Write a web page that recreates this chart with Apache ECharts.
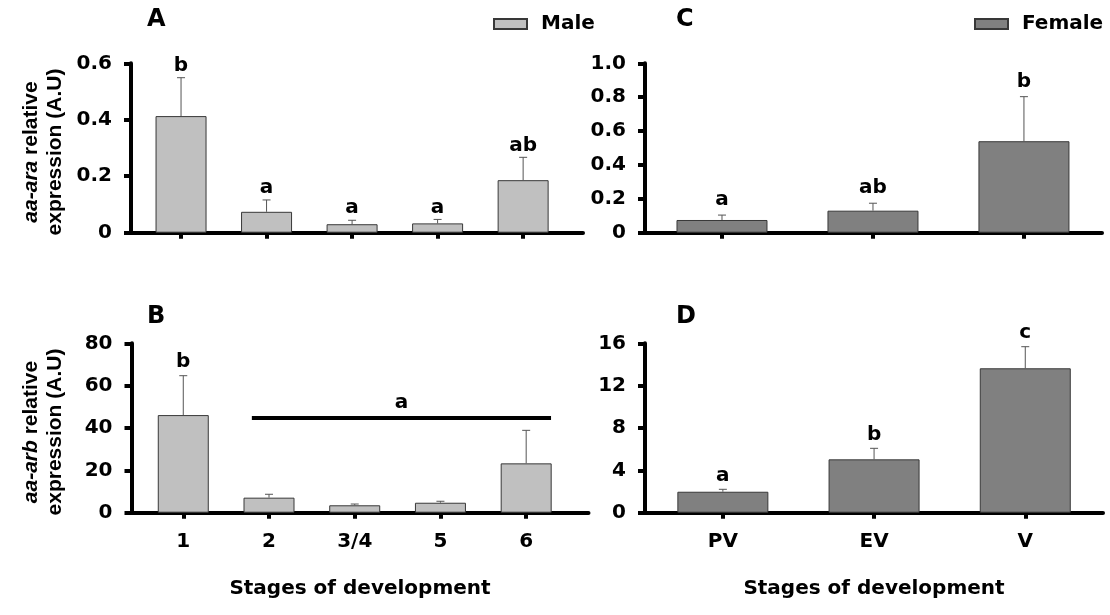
<!DOCTYPE html>
<html>
<head>
<meta charset="utf-8">
<script src="https://cdn.jsdelivr.net/npm/echarts@6/dist/echarts.min.js"></script>
<style>
  html, body { margin: 0; padding: 0; background: #fff; }
  #chart { width: 1110px; height: 615px; }
</style>
</head>
<body>
<div id="chart"></div>
<script>
// stages
var maleStages = ['1', '2', '3/4', '5', '6'];
var femaleStages = ['PV', 'EV', 'V'];

// aa-ara (A male, C female): mean, SEM, letters
var araMale = [0.413, 0.074, 0.030, 0.033, 0.186];
var araMaleSem = [0.136, 0.042, 0.014, 0.014, 0.081];
var araMaleLetters = ['b', 'a', 'a', 'a', 'ab'];
var araFemale = [0.075, 0.130, 0.540];
var araFemaleSem = [0.029, 0.044, 0.263];
var araFemaleLetters = ['a', 'ab', 'b'];

// aa-arb (B male, D female)
var arbMale = [46.1, 7.1, 3.5, 4.7, 23.3];
var arbMaleSem = [18.6, 1.6, 0.6, 0.7, 15.6];
var arbMaleLetters = ['b', '', '', '', ''];
var arbMaleGroupSpan = [0.8, 4.29];   // stages 2..6 share letter "a"
var arbMaleGroupLevel = 45;
var arbFemale = [1.98, 5.04, 13.64];
var arbFemaleSem = [0.23, 1.04, 2.04];
var arbFemaleLetters = ['a', 'b', 'c'];

var FONT = '"DejaVu Sans", Verdana, sans-serif';
var TITLE_FONT = '"Liberation Sans", Arial, Helvetica, sans-serif';
var MALE_COLOR = '#c0c0c0';
var FEMALE_COLOR = '#808080';

function idx(arr) { return arr.map(function (v, i) { return i; }); }

function xAxis(grid, cats, min, max, showLabels, name) {
  return {
    type: 'value', gridIndex: grid, min: min, max: max,
    axisLine: { show: true, onZero: false, lineStyle: { color: '#000', width: 4 } },
    axisTick: { show: true, customValues: idx(cats), length: 6, lineStyle: { color: '#000', width: 4 } },
    axisLabel: {
      show: showLabels, customValues: idx(cats), margin: 19,
      formatter: function (v) { return cats[Math.round(v)]; },
      color: '#000', fontSize: 20, fontWeight: 'bold', fontFamily: FONT
    },
    splitLine: { show: false },
    name: name || '', nameLocation: 'middle', nameGap: 66,
    nameTextStyle: { color: '#000', fontSize: 20, fontWeight: 'bold', fontFamily: FONT }
  };
}

function yAxis(grid, max, interval, fmt, name) {
  return {
    type: 'value', gridIndex: grid, min: 0, max: max, interval: interval,
    axisLine: { show: true, onZero: false, lineStyle: { color: '#000', width: 4 } },
    axisTick: { show: true, length: 7, lineStyle: { color: '#000', width: 4 } },
    axisLabel: { margin: 19, formatter: fmt, color: '#000', fontSize: 20, fontWeight: 'bold', fontFamily: FONT },
    splitLine: { show: false },
    name: name || '', nameLocation: 'middle', nameRotate: 90, nameGap: 64,
    nameTextStyle: {
      color: '#000', fontSize: 21, fontWeight: 'bold', fontFamily: TITLE_FONT, lineHeight: 24,
      padding: [0, 8, 0, 0],
      rich: { i: { fontStyle: 'italic', fontWeight: 'bold', fontSize: 21, fontFamily: TITLE_FONT, color: '#000', lineHeight: 24 } }
    }
  };
}

function bars(name, ax, means, color, width) {
  return {
    name: name, type: 'bar', xAxisIndex: ax, yAxisIndex: ax, barWidth: width,
    data: means.map(function (m, i) { return [i, m]; }),
    itemStyle: { color: color, borderColor: '#383838', borderWidth: 1 },
    silent: true
  };
}

function errors(ax, means, sems, letters, gap) {
  return {
    type: 'custom', xAxisIndex: ax, yAxisIndex: ax, silent: true, z: 3,
    data: means.map(function (m, i) { return [i, m, m + sems[i]]; }),
    renderItem: function (params, api) {
      var p0 = api.coord([api.value(0), api.value(1)]);
      var p1 = api.coord([api.value(0), api.value(2)]);
      var kids = [
        { type: 'line', shape: { x1: p0[0], y1: p0[1], x2: p1[0], y2: p1[1] }, style: { stroke: '#555', lineWidth: 1 } },
        { type: 'line', shape: { x1: p1[0] - 4, y1: p1[1], x2: p1[0] + 4, y2: p1[1] }, style: { stroke: '#555', lineWidth: 1 } }
      ];
      var lt = letters[params.dataIndex];
      if (lt) {
        kids.push({ type: 'text', x: p1[0], y: p1[1] - gap,
          style: { text: lt, fill: '#000', font: 'bold 20px ' + FONT, align: 'center', verticalAlign: 'bottom' } });
      }
      return { type: 'group', children: kids };
    }
  };
}

var fmt1 = function (v) { return v === 0 ? '0' : v.toFixed(1); };
var fmt0 = function (v) { return String(v); };

var panelTitle = function (t, left, top) {
  return { text: t, left: left, top: top, textStyle: { fontSize: 24, fontWeight: 'bold', color: '#000', fontFamily: FONT } };
};

var arbSeries = bars('Male', 1, arbMale, MALE_COLOR, 51);
arbSeries.markLine = {
  silent: true, symbol: ['none', 'none'],
  lineStyle: { color: '#000', width: 4, type: 'solid' },
  label: { show: true, position: 'insideMiddleTop', distance: 5, formatter: 'a',
    color: '#000', fontSize: 20, fontWeight: 'bold', fontFamily: FONT },
  data: [[{ coord: [arbMaleGroupSpan[0], arbMaleGroupLevel] }, { coord: [arbMaleGroupSpan[1], arbMaleGroupLevel] }]]
};

var option = {
  animation: false,
  backgroundColor: '#fff',
  title: [
    panelTitle('A', 142, 3), panelTitle('B', 142, 300),
    panelTitle('C', 671, 3), panelTitle('D', 671, 300)
  ],
  legend: [
    { data: ['Male'], left: 488, top: 9, icon: 'rect', itemWidth: 33, itemHeight: 10,
      textStyle: { fontSize: 20, fontWeight: 'bold', color: '#000', fontFamily: FONT, padding: [0, 0, 0, 9] } },
    { data: ['Female'], left: 969, top: 9, icon: 'rect', itemWidth: 33, itemHeight: 10,
      textStyle: { fontSize: 20, fontWeight: 'bold', color: '#000', fontFamily: FONT, padding: [0, 0, 0, 9] } }
  ],
  grid: [
    { left: 131, top: 63.3, width: 452, height: 169.4 },
    { left: 131.5, top: 343.3, width: 457, height: 169.4 },
    { left: 645, top: 63.3, width: 457, height: 169.4 },
    { left: 645, top: 343.3, width: 458, height: 169.4 }
  ],
  xAxis: [
    xAxis(0, maleStages, -0.585, 4.70, false),
    xAxis(1, maleStages, -0.604, 4.727, true, 'Stages of development'),
    xAxis(2, femaleStages, -0.51, 2.517, false),
    xAxis(3, femaleStages, -0.515, 2.514, true, 'Stages of development')
  ],
  yAxis: [
    yAxis(0, 0.6, 0.2, fmt1, '{i|aa-ara} relative\nexpression (A.U)'),
    yAxis(1, 80, 20, fmt0, '{i|aa-arb} relative\nexpression (A.U)'),
    yAxis(2, 1.0, 0.2, fmt1),
    yAxis(3, 16, 4, fmt0)
  ],
  series: [
    bars('Male', 0, araMale, MALE_COLOR, 51),
    errors(0, araMale, araMaleSem, araMaleLetters, 2),
    arbSeries,
    errors(1, arbMale, arbMaleSem, arbMaleLetters, 4),
    bars('Female', 2, araFemale, FEMALE_COLOR, 91),
    errors(2, araFemale, araFemaleSem, araFemaleLetters, 5),
    bars('Female', 3, arbFemale, FEMALE_COLOR, 91),
    errors(3, arbFemale, arbFemaleSem, arbFemaleLetters, 4)
  ]
};

var myChart = echarts.init(document.getElementById('chart'));
myChart.setOption(option);
</script>
</body>
</html>
